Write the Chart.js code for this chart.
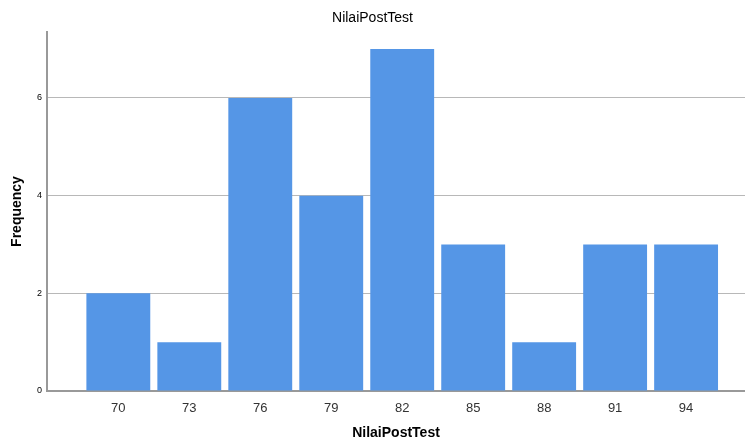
<!DOCTYPE html>
<html>
<head>
<meta charset="utf-8">
<script src="https://cdn.jsdelivr.net/npm/chart.js@4/dist/chart.umd.min.js"></script>
<style>
html,body{margin:0;padding:0;background:#fff;}
#wrap{width:745px;height:442px;}
</style>
</head>
<body>
<div id="wrap"><canvas id="c" width="745" height="442"></canvas></div>
<script>
const categories = [70, 73, 76, 79, 82, 85, 88, 91, 94];
const frequencies = [2, 1, 6, 4, 7, 3, 1, 3, 3];
const yTicks = [0, 2, 4, 6];
const chartTitle = "NilaiPostTest";
const xTitle = "NilaiPostTest";
const yTitle = "Frequency";

const FONT = "'Liberation Sans', Arial, sans-serif";

new Chart(document.getElementById('c'), {
  type: 'bar',
  data: {
    datasets: [{
      data: categories.map((c, i) => ({x: c, y: frequencies[i]})),
      backgroundColor: '#5596E6',
      borderWidth: 0,
      barPercentage: 0.9,
      categoryPercentage: 1.0
    }]
  },
  options: {
    responsive: false,
    animation: false,
    layout: {padding: {left: 0, right: 0, top: 0, bottom: 0}},
    plugins: {
      legend: {display: false},
      tooltip: {enabled: false},
      title: {
        display: true,
        text: chartTitle,
        color: '#000',
        font: {family: FONT, size: 14, weight: 'normal', lineHeight: 1.2},
        padding: {top: 10, bottom: 5.2}
      }
    },
    scales: {
      x: {
        type: 'linear',
        offset: false,
        min: 66.985,
        max: 96.49,
        afterBuildTicks: (axis) => { axis.ticks = categories.map(v => ({value: v})); },
        afterFit: (axis) => { axis.height = 51; },
        grid: {display: false, drawTicks: false},
        border: {display: true, color: '#999', width: 2},
        ticks: {
          color: '#333',
          font: {family: FONT, size: 13},
          padding: 10,
          maxRotation: 0,
          autoSkip: false
        },
        title: {
          display: true,
          text: xTitle,
          color: '#000',
          font: {family: FONT, size: 14, weight: 'bold'},
          padding: {top: 4, bottom: 0}
        }
      },
      y: {
        min: 0,
        max: 7.35,
        afterBuildTicks: (axis) => { axis.ticks = yTicks.map(v => ({value: v})); },
        afterFit: (axis) => { axis.width = 47; },
        grid: {color: '#b8b8b8', lineWidth: 1, drawTicks: false},
        border: {display: true, color: '#999', width: 2},
        ticks: {
          color: '#000',
          font: {family: FONT, size: 9},
          padding: 5
        },
        title: {
          display: true,
          text: yTitle,
          color: '#000',
          font: {family: FONT, size: 14, weight: 'bold'},
          padding: {top: 9, bottom: 0}
        }
      }
    }
  }
});
</script>
</body>
</html>
